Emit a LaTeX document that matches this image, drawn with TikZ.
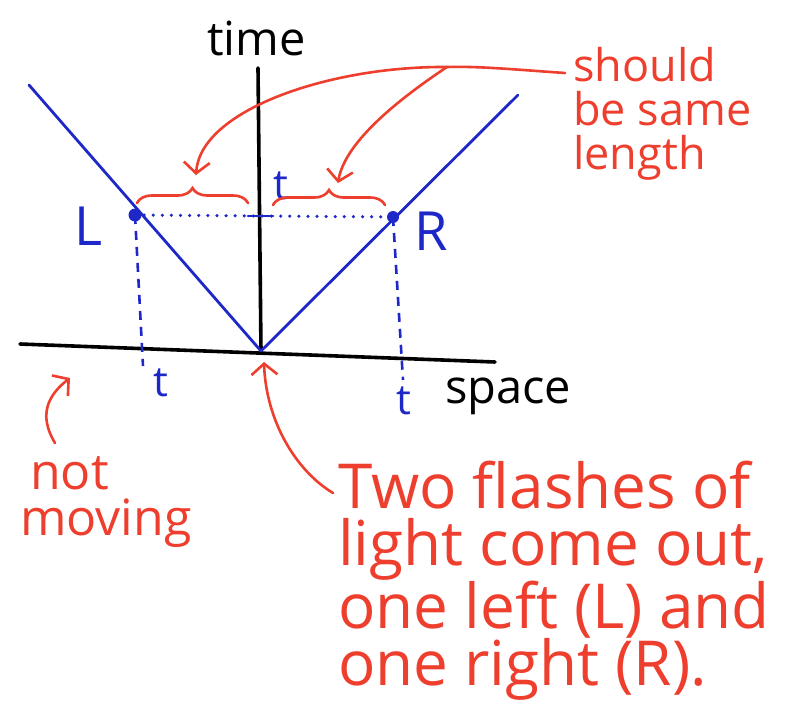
\documentclass[tikz,border=0pt]{standalone}
\usepackage{fontspec}
\setmainfont{Open Sans}
\usetikzlibrary{positioning, arrows.meta, decorations.pathreplacing, calc}
\definecolor{PenBlue}{RGB}{30,40,200}
\definecolor{PenRed}{RGB}{238,62,45}

\begin{document}
\begin{tikzpicture}[x=1pt, y=-1pt,
  axis/.style={line width=3.6pt, black, line cap=round},
  ray/.style={line width=2.8pt, PenBlue, line cap=round},
  guide/.style={line width=3.4pt, PenBlue, line cap=round, dash pattern=on 0.1pt off 9pt},
  drop/.style={line width=2.6pt, PenBlue, dash pattern=on 9pt off 7pt},
  pen/.style={line width=2.6pt, PenRed, line cap=round},
  penarrow/.style={pen, -{Straight Barb[length=11pt, width=26pt]}},
  curly/.style={pen, decorate, decoration={brace, amplitude=15pt, aspect=0.5}},
  axislabel/.style={inner sep=0pt, font=\fontsize{47}{47}\selectfont},
  ptlabel/.style={PenBlue, inner sep=0pt, font=\fontsize{54}{54}\selectfont},
  tlabel/.style={PenBlue, inner sep=0pt, font=\fontsize{42}{42}\selectfont},
  note/.style={PenRed, inner sep=0pt, align=left, anchor=north west}
]
\useasboundingbox (0,0) rectangle (807,704);

% Axes
\coordinate (O) at (261,351);
\coordinate (ttop) at (258,68);
\coordinate (xleft) at (20,344);
\coordinate (xright) at (495,362);
\draw[axis] (O) -- (ttop);
\draw[axis] (xleft) -- (xright);
\node[axislabel, anchor=base west] (time) at (207,55) {time};
\node[axislabel, anchor=base west] (space) at (445,403) {space};

% Light rays and the two events
\coordinate (raytopL) at (29,85);
\coordinate (raytopR) at (518,95);
\coordinate (L) at (135,215);
\coordinate (R) at (393,217);
\coordinate (M) at (260,216);
\draw[ray] (O) -- (raytopL);
\draw[ray] (O) -- (raytopR);
\fill[PenBlue] (L) circle (6.5pt);
\fill[PenBlue] (R) circle (6pt);
\node[ptlabel, anchor=base west] (Llab) at (74,245) {L};
\node[ptlabel, anchor=base west] (Rlab) at (414,250) {R};

% Same time line and drops to the space axis
\draw[guide] (L) -- (R);
\draw[ray] ($(M)+(-12,0)$) -- ($(M)+(13,0)$);
\coordinate (Lfoot) at (143,366);
\coordinate (Rfoot) at (403,380);
\draw[drop] (L) -- (Lfoot);
\draw[drop] (R) -- (Rfoot);
\node[tlabel] (tM) at (281,186) {t};
\node[tlabel] (tL) at (161,383) {t};
\node[tlabel] (tR) at (404,401) {t};

% Braces and the note about them
\coordinate (braceLa) at (137,203);
\coordinate (braceLb) at (248,203);
\coordinate (braceRa) at (273,205);
\coordinate (braceRb) at (385,205);
\draw[curly] (braceLa) -- (braceLb);
\draw[curly] (braceRa) -- (braceRb);
\node[note, font=\fontsize{45}{44}\selectfont] (same) at (573,47) {should\\be same\\length};
\coordinate (hub) at (447,67);
\coordinate (noteend) at (565,73);
\draw[pen] (noteend) .. controls (520,70) and (480,66) .. (hub);
\draw[penarrow] (hub) .. controls (330,66) and (200,110) .. (196,175);
\draw[penarrow] (hub) .. controls (405,95) and (345,140) .. (338,183);

% Notes below the axis
\node[note, font=\fontsize{50}{46}\selectfont] (still) at (20,456) {\hspace*{10pt}not\\moving};
\coordinate (stilltail) at (55,443);
\coordinate (stilltip) at (70,378);
\draw[penarrow] (stilltail) .. controls (38,415) and (48,395) .. (stilltip);
\node[note, font=\fontsize{62}{57}\selectfont] (flash) at (338,461) {Two flashes of\\light come out,\\one left (L) and\\one right (R).};
\coordinate (flashtail) at (333,493);
\draw[penarrow] (flashtail) .. controls (295,470) and (266,420) .. (264,362);

\end{tikzpicture}
\end{document}
